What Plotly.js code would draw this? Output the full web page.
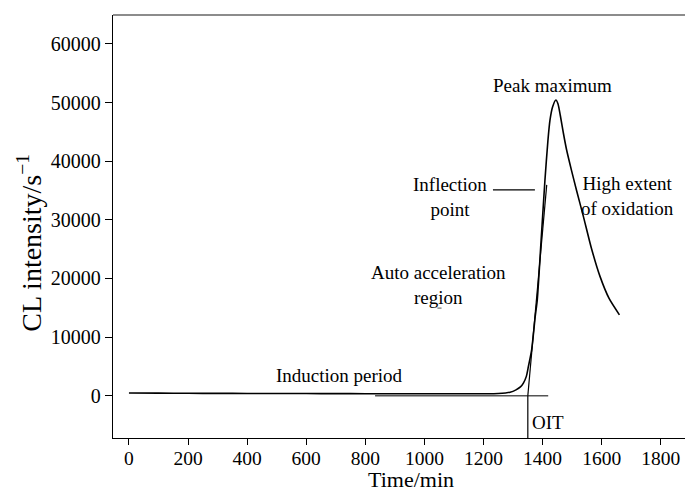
<!DOCTYPE html>
<html>
<head>
<meta charset="utf-8">
<script src="https://cdn.plot.ly/plotly-3.0.1.min.js"></script>
<style>html,body{margin:0;padding:0;background:#fff;}#chart{width:685px;height:493px;}</style>
</head>
<body>
<div id="chart"></div>
<script>
// CL intensity curve
var timeMin = [0, 100, 200, 300, 400, 500, 600, 700, 800, 900, 1000, 1100, 1200, 1250, 1290, 1310, 1325, 1335, 1345, 1352, 1363, 1375, 1382, 1395, 1408, 1418, 1425, 1434, 1445, 1452, 1460, 1470, 1481, 1498, 1515, 1538, 1565, 1594, 1625, 1660];
var clIntensity = [460, 440, 420, 400, 390, 380, 370, 360, 350, 340, 330, 330, 340, 380, 600, 1000, 1500, 2160, 3300, 5000, 7840, 13500, 16360, 26500, 36800, 43500, 47000, 49300, 50450, 49800, 47800, 44900, 42000, 38400, 35000, 30600, 25200, 20400, 16600, 13800];
// Construction lines
var baselineX = [833, 1419];
var baselineY = [0, 0];
var tangentX = [1350, 1414];
var tangentY = [0, 35960];
var oitX = [1350, 1350];
var oitY = [0, -7300];
var inflMarkX = [1232, 1374];
var inflMarkY = [35100, 35100];
var dashX = [1044, 1058];
var dashY = [14950, 14950];
// Tick labels
var xTicks = [0, 200, 400, 600, 800, 1000, 1200, 1400, 1600, 1800];
var yTicks = [0, 10000, 20000, 30000, 40000, 50000, 60000];
// Annotations
var noteText = ["Peak maximum", "Inflection<br>point", "High extent<br>of oxidation", "Auto acceleration<br>region", "Induction period", "OIT"];
var noteX = [1435, 1087, 1689, 1046, 714, 1418];
var noteY = [52840, 33920, 34090, 18920, 3410, -4600];
var xTitle = "Time/min";
var yTitle = "CL intensity/s<sup>\u22121</sup>";

var font = "Liberation Serif, Times New Roman, serif";
function ln(x, y, color, w) {
  return {x: x, y: y, type: "scatter", mode: "lines", line: {color: color, width: w}, hoverinfo: "skip", showlegend: false};
}
var traces = [
  ln(baselineX, baselineY, "#555555", 1.5),
  ln(tangentX, tangentY, "#000000", 1.2),
  ln(oitX, oitY, "#000000", 1.2),
  ln(inflMarkX, inflMarkY, "#000000", 1.2),
  ln(dashX, dashY, "#555555", 1),
  ln(timeMin, clIntensity, "#000000", 1.6)
];
traces[5].line.shape = "spline";
traces[5].line.smoothing = 0.6;

var annotations = noteText.map(function (t, i) {
  return {x: noteX[i], y: noteY[i], xref: "x", yref: "y", text: t, showarrow: false,
    font: {family: font, size: 19, color: "#000"}, align: "center"};
});
annotations.push({xref: "paper", yref: "paper", x: 0.521, y: -0.1295, yanchor: "bottom", xanchor: "center",
  text: xTitle, showarrow: false, borderpad: 0, font: {family: font, size: 22, color: "#000"}});
annotations.push({xref: "paper", yref: "paper", x: -0.145, y: 0.462, xanchor: "center", yanchor: "middle",
  textangle: -90, text: yTitle, showarrow: false, font: {family: font, size: 28, color: "#000"}});

var layout = {
  width: 685, height: 493,
  margin: {l: 113, r: 0, t: 15, b: 55},
  paper_bgcolor: "#fff", plot_bgcolor: "#fff",
  showlegend: false,
  font: {family: font, color: "#000"},
  xaxis: {
    range: [-54, 1882], tickvals: xTicks, ticktext: xTicks.map(String),
    showgrid: false, zeroline: false, showline: true, linecolor: "#000", linewidth: 1.2,
    ticks: "outside", ticklen: 6, tickcolor: "#000", tickfont: {family: font, size: 19.5},
    ticklabelstandoff: -4
  },
  yaxis: {
    range: [-7210, 64940], tickvals: yTicks, ticktext: yTicks.map(String),
    showgrid: false, zeroline: false, showline: true, linecolor: "#000", linewidth: 1.2,
    ticks: "outside", ticklen: 7, tickcolor: "#000", tickfont: {family: font, size: 20}
  },
  shapes: [{type: "line", xref: "paper", yref: "paper", x0: 0, x1: 1, y0: 1, y1: 1, line: {color: "#666", width: 1.5}}],
  annotations: annotations
};
Plotly.newPlot("chart", traces, layout, {staticPlot: true});
</script>
</body>
</html>
